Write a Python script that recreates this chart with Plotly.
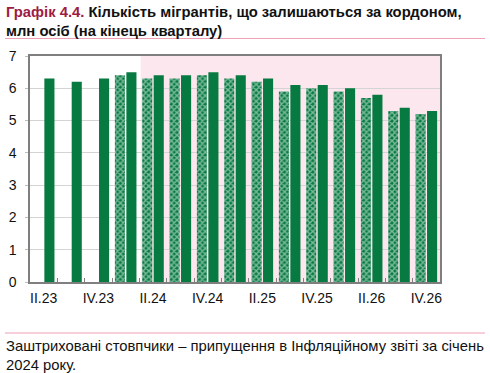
import plotly.graph_objects as go

categories = ["II.23", "III.23", "IV.23", "I.24", "II.24", "III.24", "IV.24",
              "I.25", "II.25", "III.25", "IV.25", "I.26", "II.26", "III.26", "IV.26"]
tick_labels = ["II.23", "", "IV.23", "", "II.24", "", "IV.24", "",
               "II.25", "", "IV.25", "", "II.26", "", "IV.26"]
hatched_jan2024 = [None, None, None, 6.4, 6.3, 6.3, 6.4, 6.3, 6.2, 5.9, 6.0, 5.9, 5.7, 5.3, 5.2]
current = [6.3, 6.2, 6.3, 6.5, 6.4, 6.4, 6.5, 6.4, 6.3, 6.1, 6.1, 6.0, 5.8, 5.4, 5.3]

GREEN = "#077a42"
FONT = "Liberation Sans, Arial, sans-serif"

# plot area in pixels: x 30..440, y 56..282
L, R, T, B = 30, 440, 56, 282
W, H = 490, 373
def px(x): return (x - L) / (R - L)
def py(y): return (B - y) / (B - T)

fig = go.Figure()
fig.add_trace(go.Bar(
    x=categories, y=hatched_jan2024, name="IR Jan 2024",
    marker=dict(color=GREEN, line=dict(width=0),
                pattern=dict(shape="x", fgcolor="#f2faf5", bgcolor=GREEN,
                             size=4, solidity=0.6, fillmode="overlay")),
    showlegend=False,
))
fig.add_trace(go.Bar(
    x=categories, y=current, name="current",
    marker=dict(color=GREEN, line=dict(width=0)),
    showlegend=False,
))

fig.add_shape(type="rect", xref="x", yref="y", x0=3.55, x1=14.5, y0=0, y1=7,
              fillcolor="#fde7ef", line=dict(width=0), layer="below")

# title rule and footnote rule
fig.add_shape(type="line", xref="paper", yref="paper", x0=px(5), x1=px(485),
              y0=py(38.5), y1=py(38.5), line=dict(color="#f0a0b4", width=1.2))
fig.add_shape(type="line", xref="paper", yref="paper", x0=px(5), x1=px(485),
              y0=py(333), y1=py(333), line=dict(color="#f0a0b4", width=1.2))

fig.add_annotation(
    xref="paper", yref="paper", x=px(4), y=py(2), xanchor="left", yanchor="top",
    align="left", showarrow=False,
    text="<b><span style='color:#9c1c44'>Графік 4.4.</span> Кількість мігрантів, що залишаються за кордоном,<br>млн осіб (на кінець кварталу)</b>",
    font=dict(family=FONT, size=14.8, color="#111111"),
)
fig.add_annotation(
    xref="paper", yref="paper", x=px(4), y=py(336), xanchor="left", yanchor="top",
    align="left", showarrow=False,
    text="Заштриховані стовпчики – припущення в Інфляційному звіті за січень<br>2024 року.",
    font=dict(family=FONT, size=14.8, color="#111111"),
)

fig.update_layout(
    width=W, height=H,
    margin=dict(l=L, r=W - R, t=T, b=H - B, pad=0),
    paper_bgcolor="white", plot_bgcolor="white",
    barmode="group", bargap=0.16, bargroupgap=0.12,
    font=dict(family=FONT, size=14, color="#111111"),
)
fig.update_xaxes(
    type="category", tickvals=categories, ticktext=tick_labels,
    tickson="boundaries", ticks="inside", ticklen=4, tickcolor="#808080",
    showline=True, linecolor="#7f7f7f", linewidth=1.5, mirror=True,
    showgrid=False, tickfont=dict(size=14), tickangle=0, range=[-0.5, 14.5],
    automargin=False, ticklabelstandoff=2,
)
fig.update_yaxes(
    range=[0, 7], dtick=1, ticks="outside", ticklen=3, tickcolor="#bfbfbf",
    showline=True, linecolor="#7f7f7f", linewidth=1.5, mirror=True,
    showgrid=True, gridcolor="#d4d4d4", gridwidth=1, zeroline=False,
    tickfont=dict(size=14), automargin=False, ticklabelstandoff=6,
)

fig.write_html("out.html", config={"displayModeBar": False},
               post_script="document.body.style.margin='0';document.body.style.overflow='hidden';")
